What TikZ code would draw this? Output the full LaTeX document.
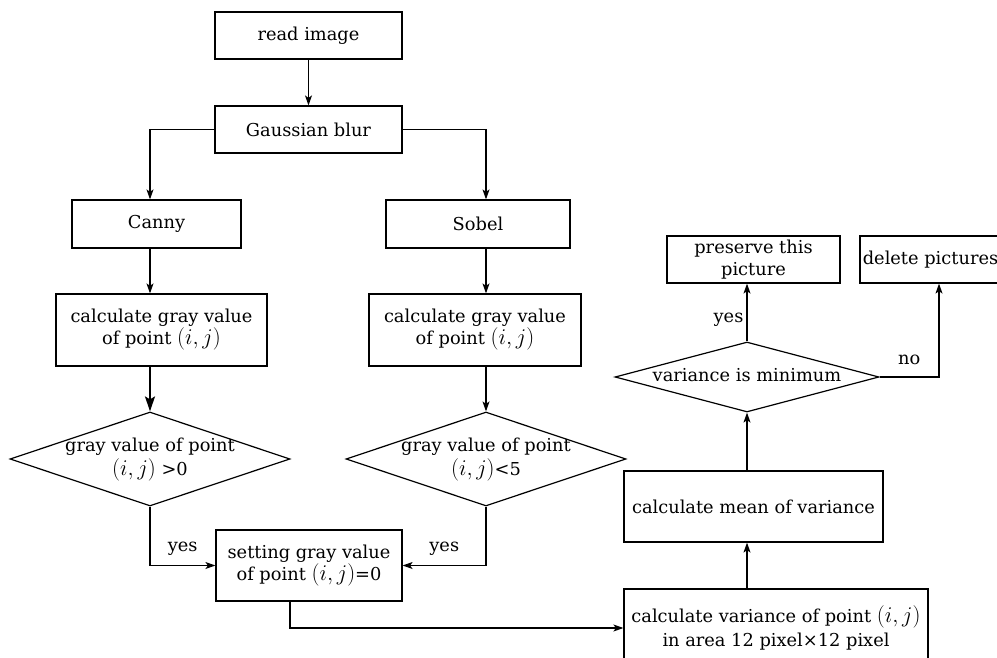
\documentclass[tikz,border=0pt]{standalone}
\usepackage{fontspec}
\setmainfont{DejaVu Serif}
\usetikzlibrary{arrows.meta,shapes.geometric,calc}
\newcommand{\dtxt}[1]{\makebox[0pt]{\begin{tabular}{@{}c@{}}#1\end{tabular}}}
\newcommand{\pij}{\scalebox{1.3}{$(i,j)$}}
\tikzset{
  txt/.style={font=\fontsize{17.8}{22}\selectfont},
  box/.style={draw, line width=1.2pt, rectangle, inner sep=0pt, align=center, txt},
  dia/.style={draw, line width=1.2pt, diamond, inner sep=0pt, aspect=3, txt},
  arr/.style={line width=1.2pt, -{Stealth[length=10pt,width=7pt,inset=2.5pt]}},
  bigarr/.style={line width=1.7pt, -{Stealth[length=15pt,width=10pt,inset=3pt]}},
  lab/.style={txt, inner sep=3pt}
}
\begin{document}
\begin{tikzpicture}[x=1pt,y=-1pt]
\useasboundingbox (0,0) rectangle (997,658);
\node[box, minimum width=187pt, minimum height=47pt] (read) at (308.5,35.5) {read image};
\node[box, minimum width=187pt, minimum height=47pt] (gauss) at (308.5,129.5) {Gaussian blur};
\node[box, minimum width=169pt, minimum height=48pt] (canny) at (156.5,224) {Canny};
\node[box, minimum width=184pt, minimum height=48pt] (sobel) at (478,224) {Sobel};
\node[box, minimum width=211pt, minimum height=72pt] (calcL) at (161.5,330) {calculate gray value\\of point \pij};
\node[box, minimum width=212pt, minimum height=72pt] (calcR) at (475,330) {calculate gray value\\of point \pij};
\node[dia, minimum width=280pt, minimum height=94pt] (diaL) at (150,459) {\dtxt{gray value of point\\\pij{} >0}};
\node[dia, minimum width=280pt, minimum height=94pt] (diaR) at (486,459) {\dtxt{gray value of point\\\pij{}<5}};
\node[box, minimum width=186pt, minimum height=71pt] (set) at (309,565.5) {setting gray value\\of point \pij{}=0};
\node[box, minimum width=304pt, minimum height=78pt, font=\fontsize{17.8}{23.5}\selectfont] (var) at (776,628) {calculate variance of point \pij\\in area 12 pixel×12 pixel};
\node[box, minimum width=259pt, minimum height=71pt] (mean) at (753.5,506.5) {calculate mean of variance};
\node[dia, minimum width=264pt, minimum height=70pt] (diaV) at (747,377) {\dtxt{variance is minimum}};
\node[box, minimum width=173pt, minimum height=47pt] (pres) at (753.5,259.5) {preserve this\\picture};
\node[box, minimum width=141pt, minimum height=47pt] (del) at (930.5,259.5) {delete pictures};

\draw[arr] (read) -- (gauss);
\draw[arr] (gauss.west) -| (diaL.north |- canny.north);
\draw[arr] (gauss.east) -| (diaR.north |- sobel.north);
\draw[arr] (diaL.north |- canny.south) -- (diaL.north |- calcL.north);
\draw[arr] (diaR.north |- sobel.south) -- (diaR.north |- calcR.north);
\draw[bigarr] (diaL.north |- calcL.south) -- (diaL.north);
\draw[arr] (diaR.north |- calcR.south) -- (diaR.north);
\draw[arr] (diaL.south) |- (set.west) node[lab, pos=0.75, above, yshift=6pt] {yes};
\draw[arr] (diaR.south) |- (set.east) node[lab, pos=0.75, above, yshift=6pt] {yes};
\draw[arr] ($(set.south)+(-19,0)$) |- (var.west);
\draw[arr] (diaV.south |- var.north) -- (diaV.south |- mean.south);
\draw[arr] (diaV.south |- mean.north) -- (diaV.south);
\draw[arr] (diaV.north) -- (diaV.north |- pres.south) node[lab, pos=0.37, left] {yes};
\draw[arr] (diaV.east) -| ($(del.south)+(8.5,0)$) node[lab, pos=0.25, above, yshift=9pt] {no};
\end{tikzpicture}
\end{document}
